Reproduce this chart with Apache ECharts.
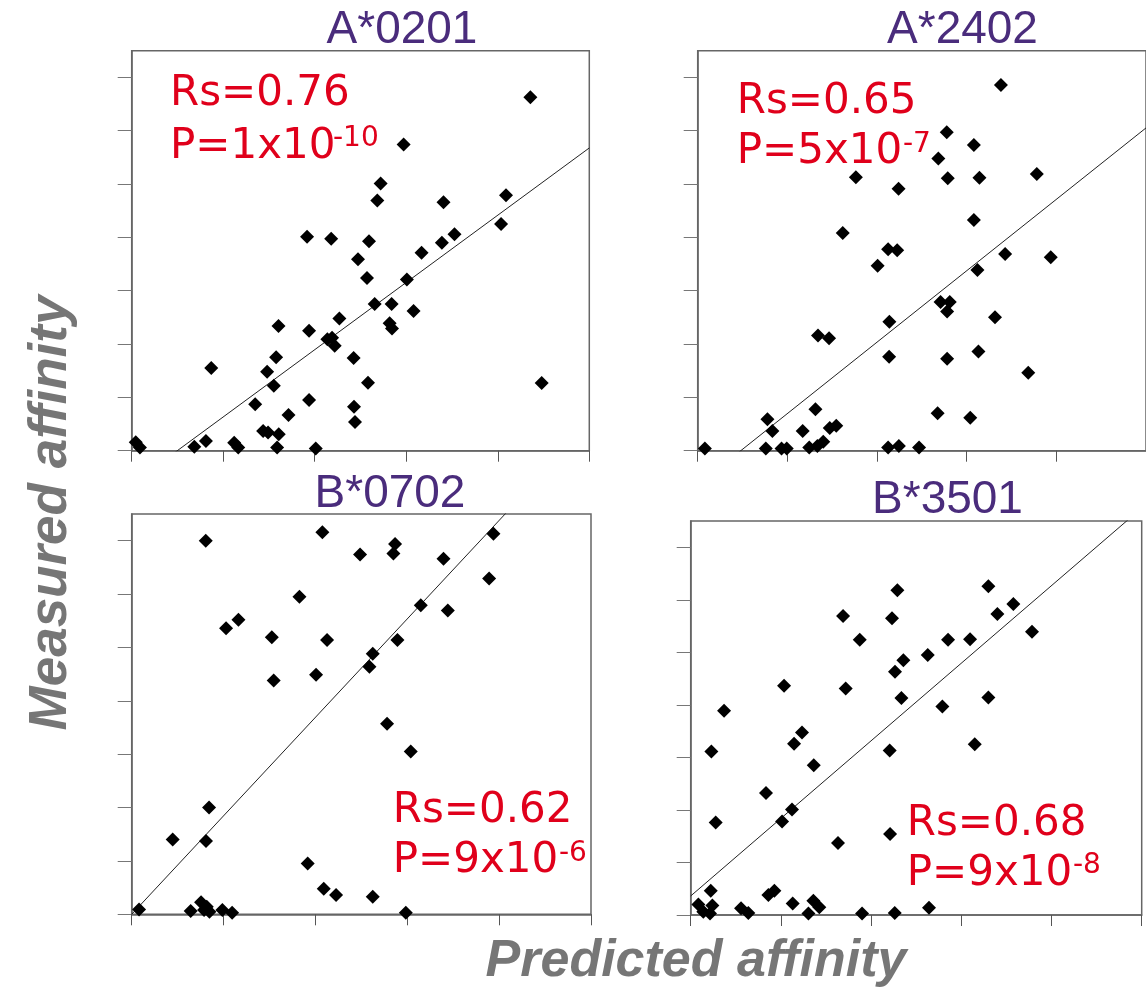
<!DOCTYPE html>
<html>
<head>
<meta charset="utf-8">
<script src="https://cdn.jsdelivr.net/npm/echarts@6/dist/echarts.min.js"></script>
<style>
html,body{margin:0;padding:0;background:#fff;}
#chart{width:1146px;height:992px;}
</style>
</head>
<body>
<div id="chart"></div>
<script>
// ---- data (predicted, measured) ----
const panelNames = ['A*0201', 'A*2402', 'B*0702', 'B*3501'];
const rsValues = ['0.76', '0.65', '0.62', '0.68'];
const pMantissa = ['1', '5', '9', '9'];
const pExponent = ['-10', '-7', '-6', '-8'];
const fitSlope = [1.261, 1.339, 1.845, 1.477];
const fitIntercept = [-0.628, -0.643, 0.0, 0.362];
const xTicks = [0, 1, 2, 3, 4, 5];
const yTicks = [0, 1, 2, 3, 4, 5, 6, 7];

const a0201 = [
  [4.356,6.625],[2.971,5.74],[2.72,5.01],[2.684,4.69],[3.407,4.66],[4.09,4.79],[4.036,4.25],
  [1.916,4.01],[2.18,3.975],[2.593,3.925],[3.527,4.06],[3.389,3.9],[3.167,3.71],[2.473,3.59],
  [2.571,3.24],[3.007,3.21],[2.655,2.75],[2.84,2.75],[3.08,2.62],[2.818,2.39],[2.844,2.29],
  [2.269,2.48],[1.604,2.34],[1.938,2.25],[2.138,2.09],[2.189,2.12],[2.218,1.97],[1.578,1.75],
  [2.425,1.74],[0.869,1.55],[1.48,1.48],[1.553,1.22],[2.582,1.275],[4.48,1.27],[1.938,0.95],
  [1.349,0.87],[2.429,0.825],[1.713,0.67],[2.44,0.54],[1.436,0.37],[1.49,0.34],[1.607,0.31],
  [0.811,0.18],[1.12,0.15],[0.684,0.075],[1.164,0.06],[1.589,0.06],[2.011,0.04],[0.044,0.16],[0.09,0.06]
];
const a2402 = [
  [3.382,6.856],[2.778,5.97],[3.08,5.73],[2.684,5.48],[1.764,5.125],[2.789,5.11],[3.142,5.12],
  [3.782,5.19],[2.24,4.91],[3.08,4.325],[1.618,4.08],[2.124,3.775],[2.225,3.76],[3.429,3.69],
  [3.938,3.625],[2.007,3.47],[3.12,3.39],[2.709,2.79],[2.811,2.79],[2.782,2.61],[3.316,2.5],
  [2.138,2.42],[1.342,2.16],[1.465,2.11],[2.135,1.76],[2.782,1.725],[3.131,1.86],[3.687,1.46],
  [1.313,0.775],[2.676,0.7],[3.04,0.62],[0.778,0.59],[0.833,0.37],[1.171,0.37],[1.473,0.425],
  [1.545,0.47],[1.4,0.17],[1.335,0.09],[1.244,0.06],[0.76,0.04],[0.935,0.04],[0.993,0.04],
  [2.124,0.06],[2.244,0.09],[2.469,0.06],[0.08,0.04]
];
const b0702 = [
  [0.806,7.0],[2.076,7.16],[3.938,7.13],[2.867,6.94],[2.849,6.76],[2.486,6.74],[3.394,6.66],
  [3.891,6.29],[1.826,5.95],[3.147,5.79],[3.441,5.69],[1.162,5.52],[1.027,5.36],[1.525,5.19],
  [2.127,5.14],[2.893,5.14],[2.624,4.88],[2.588,4.64],[2.007,4.49],[1.546,4.38],[2.78,3.57],
  [3.038,3.05],[0.842,2.0],[0.446,1.4],[0.809,1.375],[1.916,0.95],[2.091,0.48],[2.225,0.36],
  [2.624,0.33],[2.984,0.03],[0.08,0.09],[0.642,0.06],[0.755,0.225],[0.817,0.14],[0.788,0.08],
  [0.846,0.05],[0.987,0.08],[1.093,0.03]
];
const b3501 = [
  [3.3,6.26],[2.291,6.18],[3.577,5.92],[3.4,5.73],[1.689,5.69],[2.232,5.65],[3.784,5.39],
  [1.874,5.24],[2.853,5.24],[3.097,5.25],[2.628,4.95],[2.358,4.85],[2.265,4.63],[1.035,4.365],
  [1.718,4.31],[2.336,4.13],[3.3,4.14],[2.79,3.97],[0.37,3.89],[1.234,3.475],[1.146,3.26],
  [3.149,3.25],[0.229,3.11],[2.206,3.13],[1.364,2.85],[0.835,2.32],[1.123,2.01],[1.013,1.78],
  [0.277,1.76],[1.633,1.37],[2.21,1.54],[0.222,0.46],[0.861,0.38],[0.928,0.46],[1.131,0.22],
  [1.36,0.27],[1.426,0.146],[2.642,0.14],[0.085,0.2],[0.24,0.18],[0.14,0.06],[0.558,0.13],
  [0.639,0.04],[1.305,0.03],[1.9,0.03],[2.262,0.04],[0.214,0.03]
];
const panelData = [a0201, a2402, b0702, b3501];

// ---- layout ----
const grids = [
  {left: 131.7, top: 50.7, width: 457.6, height: 400},
  {left: 697.7, top: 50.7, width: 458.3, height: 400},
  {left: 131.7, top: 514, width: 459.3, height: 400.3},
  {left: 690.7, top: 521, width: 451, height: 394}
];
const titlePos = [[402, 45], [962.5, 45], [390, 509], [947.5, 515]];
// [left, baseline of Rs line, baseline of P line, superscript x, superscript baseline]
const statPos = [
  [170, 107, 160, 333, 147],
  [736.7, 115, 165, 903, 153],
  [392.7, 824, 874, 559, 862],
  [906.7, 836.7, 887, 1073, 874]
];

const AXC = '#666';
const chart = echarts.init(document.getElementById('chart'), null, {renderer: 'canvas'});

const xAxes = [], yAxes = [], series = [], graphics = [];
grids.forEach((g, i) => {
  xAxes.push({
    gridIndex: i, type: 'value', min: 0, max: 5, interval: 1,
    axisLine: {show: true, onZero: false, lineStyle: {color: AXC, width: 1.5}},
    axisTick: {show: true, length: 11, lineStyle: {color: '#555', width: 1}, customValues: xTicks},
    axisLabel: {show: false}, splitLine: {show: false}
  });
  yAxes.push({
    gridIndex: i, type: 'value', min: 0, max: 7.5, interval: 1,
    axisLine: {show: true, onZero: false, lineStyle: {color: AXC, width: 1.5}},
    axisTick: {show: true, length: 14, lineStyle: {color: '#777', width: 1}, customValues: yTicks},
    axisLabel: {show: false}, splitLine: {show: false}
  });
  series.push({
    type: 'line', xAxisIndex: i, yAxisIndex: i, symbol: 'none', silent: true, clip: true,
    lineStyle: {color: '#222', width: 1},
    data: [[0, fitIntercept[i]], [5, fitIntercept[i] + fitSlope[i] * 5]],
    z: 2
  });
  series.push({
    type: 'scatter', xAxisIndex: i, yAxisIndex: i, symbol: 'diamond', symbolSize: 14,
    itemStyle: {color: '#000', opacity: 1}, data: panelData[i], z: 3, clip: false
  });
  // title
  graphics.push({
    type: 'text', x: titlePos[i][0], y: titlePos[i][1] - 0.31 * 46,
    style: {text: panelNames[i], font: '46px "Liberation Sans", Arial, sans-serif',
      fill: '#4a2c7c', align: 'center', verticalAlign: 'middle'}
  });
  const s = statPos[i];
  graphics.push({
    type: 'text', x: s[0], y: s[1] - 0.3 * 42,
    style: {text: 'Rs=' + rsValues[i], font: '42px "DejaVu Sans", Verdana, sans-serif',
      fill: '#e0001b', align: 'left', verticalAlign: 'middle'}
  });
  graphics.push({
    type: 'text', x: s[0], y: s[2] - 0.3 * 42,
    style: {text: 'P=' + pMantissa[i] + 'x10', font: '42px "DejaVu Sans", Verdana, sans-serif',
      fill: '#e0001b', align: 'left', verticalAlign: 'middle'}
  });
  graphics.push({
    type: 'text', x: s[3], y: s[4] - 0.3 * 28,
    style: {text: pExponent[i], font: '28px "DejaVu Sans", Verdana, sans-serif',
      fill: '#e0001b', align: 'left', verticalAlign: 'middle'}
  });
});

graphics.push({
  type: 'text', x: 696, y: 978 - 0.31 * 52,
  style: {text: 'Predicted affinity', font: 'italic bold 52px "Liberation Sans", Arial, sans-serif',
    fill: '#767676', align: 'center', verticalAlign: 'middle'}
});
graphics.push({
  type: 'text', x: 68 - 0.31 * 52, y: 513, rotation: Math.PI / 2,
  style: {text: 'Measured affinity', font: 'italic bold 53px "Liberation Sans", Arial, sans-serif',
    fill: '#767676', align: 'center', verticalAlign: 'middle'}
});

chart.setOption({
  animation: false,
  backgroundColor: '#fff',
  grid: grids.map(g => Object.assign({show: true, borderColor: AXC, borderWidth: 1.5, backgroundColor: 'transparent'}, g)),
  xAxis: xAxes,
  yAxis: yAxes,
  series: series,
  graphic: graphics
});
</script>
</body>
</html>
